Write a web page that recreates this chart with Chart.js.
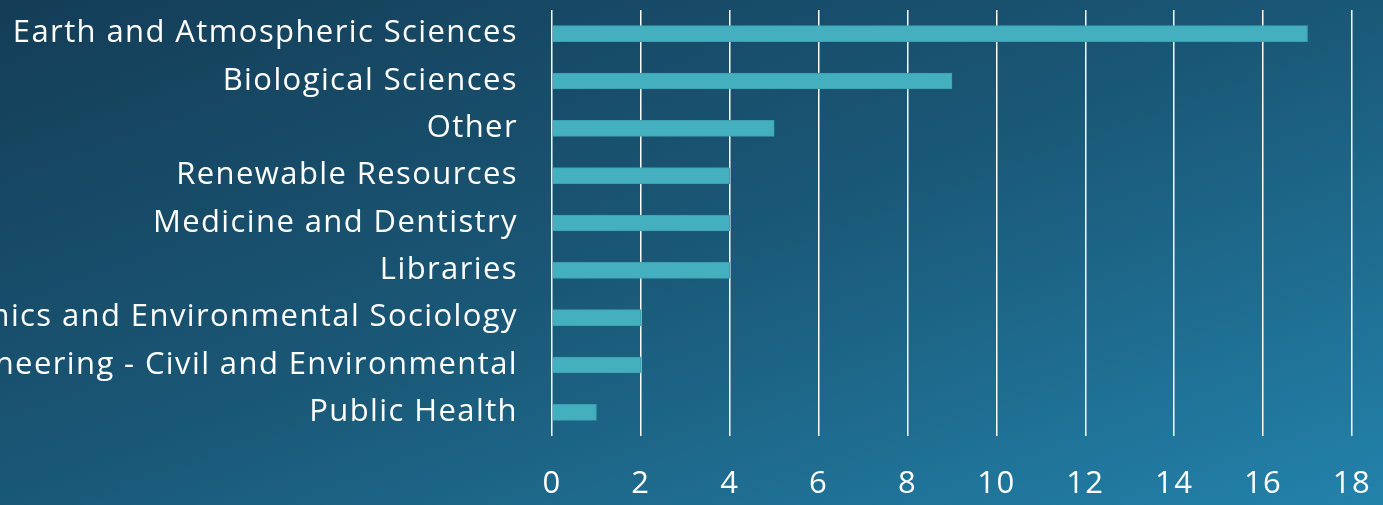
<!DOCTYPE html>
<html>
<head>
<meta charset="utf-8">
<script src="https://cdn.jsdelivr.net/npm/chart.js@4"></script>
<style>
html, body { margin: 0; padding: 0; }
body {
    width: 1383px; height: 505px; overflow: hidden;
    background: linear-gradient(160deg, #143d57 0%, #1a5877 50%, #2382ab 100%);
}
#wrap { position: relative; width: 1383px; height: 505px; }
</style>
</head>
<body>
<div id="wrap"><canvas id="chart"></canvas></div>
<script>
var categories = [
    'Earth and Atmospheric Sciences',
    'Biological Sciences',
    'Other',
    'Renewable Resources',
    'Medicine and Dentistry',
    'Libraries',
    'Resource Economics and Environmental Sociology',
    'Engineering - Civil and Environmental',
    'Public Health',
];
var counts = [17, 9, 5, 4, 4, 4, 2, 2, 1];
var xMin = 0;
var xMax = 18;
var xStep = 2;

var labelFont = {family: "'Open Sans', sans-serif", size: 31};

// a bit of tracking to get closer to the original's wide typeface
var spacingPlugin = {
    id: 'spacing',
    beforeDraw: function(chart) { chart.ctx.letterSpacing = '1.4px'; },
};

var conf = {
    type: 'bar',
    data: {
        labels: categories,
        datasets: [{
            data: counts,
            backgroundColor: '#44afbf',
            borderColor: '#3f9fb2',
            borderWidth: 1,
            barThickness: 16,
        }],
    },
    options: {
        indexAxis: 'y',
        responsive: false,
        animation: false,
        layout: {padding: {top: 10, right: 31, bottom: 2, left: 0}},
        plugins: {legend: {display: false}, tooltip: {enabled: false}},
        scales: {
            x: {
                min: xMin,
                max: xMax,
                ticks: {stepSize: xStep, color: '#ffffff', font: labelFont, padding: 30},
                grid: {color: '#ffffff', lineWidth: 1.5, drawTicks: false},
                border: {display: false},
                afterFit: function(scale) {
                    scale.height = 67;
                    scale.paddingLeft = 0;
                    scale.paddingRight = 0;
                },
            },
            y: {
                ticks: {color: '#ffffff', font: labelFont, padding: 34},
                grid: {display: false, drawTicks: false},
                border: {display: false},
                afterFit: function(scale) {
                    scale.width = 552;
                    scale.paddingTop = 0;
                    scale.paddingBottom = 0;
                },
            },
        },
    },
    plugins: [spacingPlugin],
};

var canvas = document.getElementById('chart');
canvas.width = 1383;
canvas.height = 505;
new Chart(canvas.getContext('2d'), conf);
</script>
</body>
</html>
